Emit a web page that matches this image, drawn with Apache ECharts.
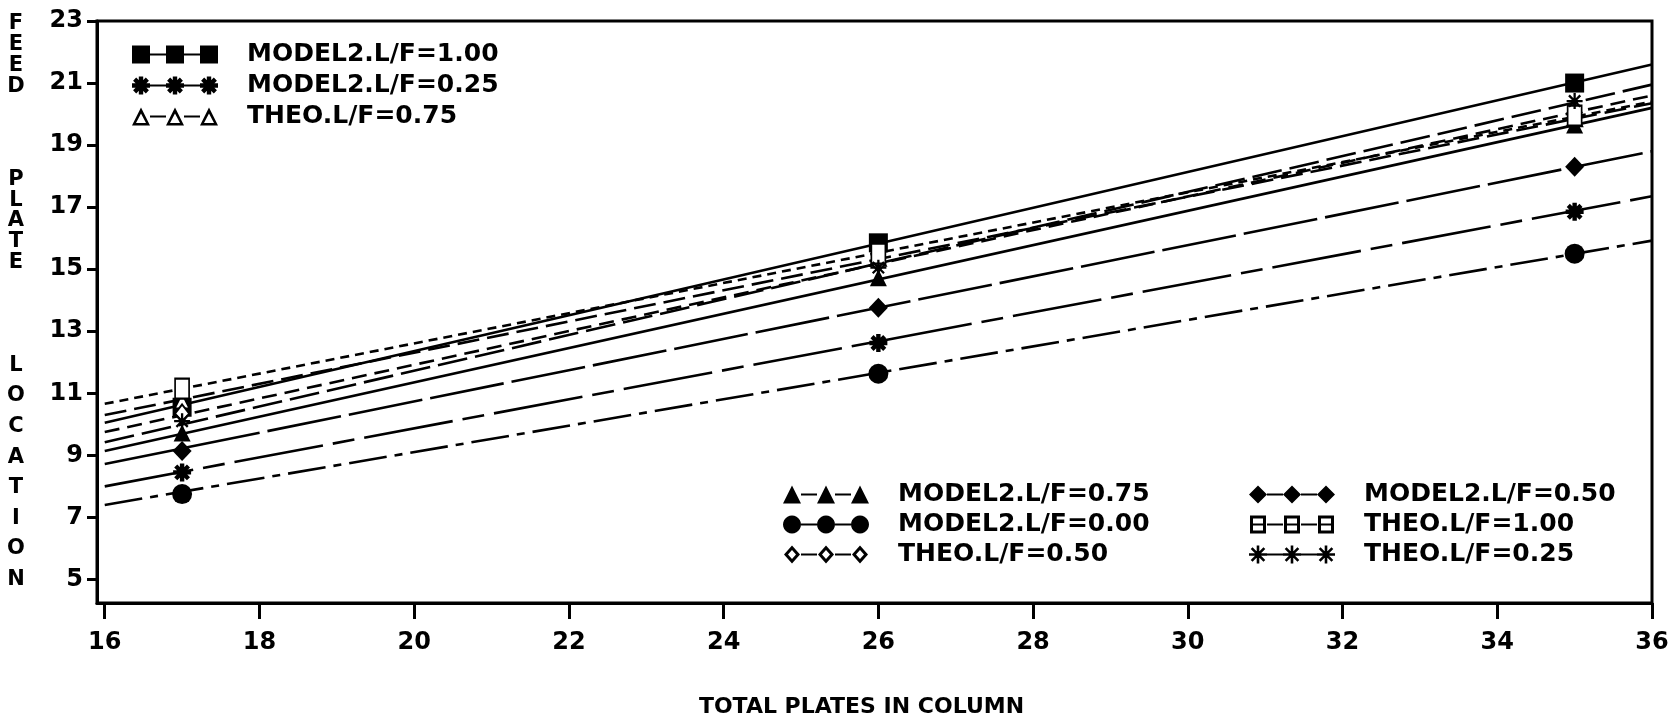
<!DOCTYPE html>
<html><head><meta charset="utf-8">
<script src="https://cdn.jsdelivr.net/npm/echarts@6/dist/echarts.min.js"></script>
<style>html,body{margin:0;padding:0;background:#fff}#c{width:1672px;height:716px}</style>
</head><body><div id="c"></div>
<script>
// ---- data ----
const plates = [17, 26, 35];
const fitX = [16, 36];
const xTicks = [16, 18, 20, 22, 24, 26, 28, 30, 32, 34, 36];
const yTicks = [5, 7, 9, 11, 13, 15, 17, 19, 21, 23];

const model100 = [10.55, 15.85, 21.0];
const model075 = [9.72, 14.72, 19.65];
const model050 = [9.14, 13.76, 18.3];
const model025 = [8.45, 12.62, 16.85];
const model000 = [7.75, 11.63, 15.5];
const theo100 = [11.15, 15.5, 19.95];
const theo075 = [10.75, 15.35, 19.85];
const theo050 = [10.35, 15.2, 20.05];
const theo025 = [10.1, 15.05, 20.42];

// fitted lines read at x = 16 and x = 36
const fitModel100 = [10.05, 21.6];
const fitModel075 = [9.14, 20.2];
const fitModel050 = [8.72, 18.8];
const fitModel025 = [8.0, 17.35];
const fitModel000 = [7.4, 15.92];
const fitTheo100 = [10.66, 20.4];
const fitTheo075 = [10.3, 20.35];
const fitTheo050 = [9.75, 20.6];
const fitTheo025 = [9.42, 20.95];

// ---- shapes ----
function P(x, y) { return x.toFixed(2) + ',' + y.toFixed(2); }
function barPath(cx, cy, L, w, deg) {
  const a = deg * Math.PI / 180, dx = Math.cos(a), dy = Math.sin(a), nx = -dy, ny = dx;
  const pts = [[cx + L*dx + w*nx, cy + L*dy + w*ny], [cx + L*dx - w*nx, cy + L*dy - w*ny],
               [cx - L*dx - w*nx, cy - L*dy - w*ny], [cx - L*dx + w*nx, cy - L*dy + w*ny]];
  return 'M' + pts.map(p => P(p[0], p[1])).join('L') + 'Z';
}
function asterisk(cx, cy, r, w) { return [0, 45, 90, 135].map(d => barPath(cx, cy, r, w, d)).join(''); }
function circlePath(cx, cy, r) {
  let s = '';
  for (let i = 0; i < 24; i++) { const a = i / 24 * Math.PI * 2; s += (i ? 'L' : 'M') + P(cx + r*Math.cos(a), cy + r*Math.sin(a)); }
  return s + 'Z';
}
function shape(kind, ox) {
  switch (kind) {
    case 'square': return `M${ox},0L${ox+18},0L${ox+18},18L${ox},18Z`;
    case 'osquare': return `M${ox+1},0L${ox+17},0L${ox+17},18L${ox+1},18ZM${ox+4},3L${ox+4},15L${ox+14},15L${ox+14},3ZM${ox+4},8L${ox+14},8L${ox+14},10L${ox+4},10Z`;
    case 'circle': return circlePath(ox + 9, 9, 9);
    case 'diamond': return `M${ox+9},0L${ox+18},9L${ox+9},18L${ox},9Z`;
    case 'odiamond': return `M${ox+9},0L${ox+17},9L${ox+9},18L${ox+1},9ZM${ox+9},4.5L${ox+5},9L${ox+9},13.5L${ox+13},9Z`;
    case 'triangle': return `M${ox+9},0L${ox+18},18L${ox},18Z`;
    case 'otriangle': return `M${ox+9},0L${ox+18},18L${ox},18ZM${ox+9},6L${ox+4},15.5L${ox+14},15.5Z`;
    case 'star': return asterisk(ox + 9, 9, 9, 2.2);
    case 'star2': return asterisk(ox + 9, 9, 9, 1.3);
  }
}
function legendIcon(kind) {
  return 'path://' + shape(kind, 0) + 'M18,8L34,8L34,10L18,10Z' + shape(kind, 34) + 'M52,8L68,8L68,10L52,10Z' + shape(kind, 68);
}

const defs = [
  { name: 'MODEL2.L/F=1.00', vals: model100, fit: fitModel100, kind: 'square', symbol: 'rect', size: 19, dash: 'solid' },
  { name: 'MODEL2.L/F=0.25', vals: model025, fit: fitModel025, kind: 'star', symbol: 'path://' + asterisk(0, 0, 9, 2.2), size: 18, dash: [90, 10, 22, 10] },
  { name: 'THEO.L/F=0.75', vals: theo075, fit: fitTheo075, kind: 'otriangle', symbol: 'emptyTriangle', size: 15, dash: [22, 8] },
  { name: 'MODEL2.L/F=0.75', vals: model075, fit: fitModel075, kind: 'triangle', symbol: 'triangle', size: 17, dash: 'solid' },
  { name: 'MODEL2.L/F=0.00', vals: model000, fit: fitModel000, kind: 'circle', symbol: 'circle', size: 20, dash: [38, 8, 8, 8] },
  { name: 'THEO.L/F=0.50', vals: theo050, fit: fitTheo050, kind: 'odiamond', symbol: 'emptyDiamond', size: [14, 18], dash: [15, 8] },
  { name: 'MODEL2.L/F=0.50', vals: model050, fit: fitModel050, kind: 'diamond', symbol: 'diamond', size: [19, 20], dash: [75, 8] },
  { name: 'THEO.L/F=1.00', vals: theo100, fit: fitTheo100, kind: 'osquare', symbol: 'emptyRect', size: [14, 20], dash: [9, 6] },
  { name: 'THEO.L/F=0.25', vals: theo025, fit: fitTheo025, kind: 'star2', symbol: 'path://' + asterisk(0, 0, 9, 1.3), size: 16, dash: [30, 8] }
];

const series = [];
defs.forEach(d => {
  series.push({
    type: 'line', name: d.name + ' fit', silent: true, symbol: 'none', z: 2,
    data: fitX.map((x, i) => [x, d.fit[i]]),
    lineStyle: { color: '#000', width: 2.6, type: d.dash }
  });
});
defs.forEach(d => {
  series.push({
    type: 'scatter', name: d.name, z: 4,
    data: plates.map((x, i) => [x, d.vals[i]]),
    symbol: d.symbol, symbolSize: d.size,
    itemStyle: { color: '#000', borderColor: '#000', borderWidth: d.symbol.indexOf('empty') === 0 ? 2.5 : 0, opacity: 1 }
  });
});

const txt = { fontFamily: 'DejaVu Sans', fontWeight: 'bold', fontSize: 25, color: '#000', padding: [0, 0, 0, 24] };
function legendFor(names, left, top, gap) {
  return {
    orient: 'vertical', left: left, top: top, itemWidth: 86, itemHeight: 18, itemGap: gap,
    selectedMode: false, textStyle: txt, itemStyle: { borderWidth: 0 },
    data: names.map(n => ({ name: n, icon: legendIcon(defs.find(d => d.name === n).kind) }))
  };
}

const labelFont = { fontFamily: 'DejaVu Sans', fontWeight: 'bold', fontSize: 24, color: '#000' };

const option = {
  backgroundColor: '#fff',
  animation: false,
  grid: { left: 97, right: 20, top: 21, bottom: 113, show: true, borderColor: '#000', borderWidth: 3, containLabel: false, outerBoundsMode: 'none' },
  xAxis: {
    type: 'value', min: 15.9, max: 36,
    axisLine: { lineStyle: { color: '#000', width: 3 } },
    axisTick: { show: true, length: 16, lineStyle: { color: '#000', width: 3 }, customValues: xTicks },
    axisLabel: Object.assign({ customValues: xTicks, margin: 28 }, labelFont),
    splitLine: { show: false },
    name: 'TOTAL PLATES IN COLUMN', nameLocation: 'middle', nameGap: 93, nameMoveOverlap: false,
    nameTextStyle: { fontFamily: 'DejaVu Sans', fontWeight: 'bold', fontSize: 22, color: '#000', padding: [0, 26, 0, 0] }
  },
  yAxis: {
    type: 'value', min: 4.24, max: 23,
    axisLine: { show: true, lineStyle: { color: '#000', width: 3 } },
    axisTick: { show: true, length: 10, lineStyle: { color: '#000', width: 3 }, customValues: yTicks },
    axisLabel: Object.assign({ customValues: yTicks, margin: 14 }, labelFont),
    splitLine: { show: false }
  },
  legend: [
    legendFor(['MODEL2.L/F=1.00', 'MODEL2.L/F=0.25', 'THEO.L/F=0.75'], 127, 37, 6),
    legendFor(['MODEL2.L/F=0.75', 'MODEL2.L/F=0.00', 'THEO.L/F=0.50'], 778, 477, 5),
    legendFor(['MODEL2.L/F=0.50', 'THEO.L/F=1.00', 'THEO.L/F=0.25'], 1244, 477, 5)
  ],
  graphic: [
    { type: 'text', x: 16, y: 13, style: { text: 'F\nE\nE\nD', textAlign: 'center', textVerticalAlign: 'top', lineHeight: 21, fontFamily: 'DejaVu Sans', fontWeight: 'bold', fontSize: 21, fill: '#000' } },
    { type: 'text', x: 16, y: 169, style: { text: 'P\nL\nA\nT\nE', textAlign: 'center', textVerticalAlign: 'top', lineHeight: 20.8, fontFamily: 'DejaVu Sans', fontWeight: 'bold', fontSize: 21, fill: '#000' } },
    { type: 'text', x: 16, y: 350, style: { text: 'L\nO\nC\nA\nT\nI\nO\nN', textAlign: 'center', textVerticalAlign: 'top', lineHeight: 30.6, fontFamily: 'DejaVu Sans', fontWeight: 'bold', fontSize: 21, fill: '#000' } }
  ],
  series: series
};
const chart = echarts.init(document.getElementById('c'), null, { renderer: 'canvas' });
chart.setOption(option);
</script>
</body></html>
